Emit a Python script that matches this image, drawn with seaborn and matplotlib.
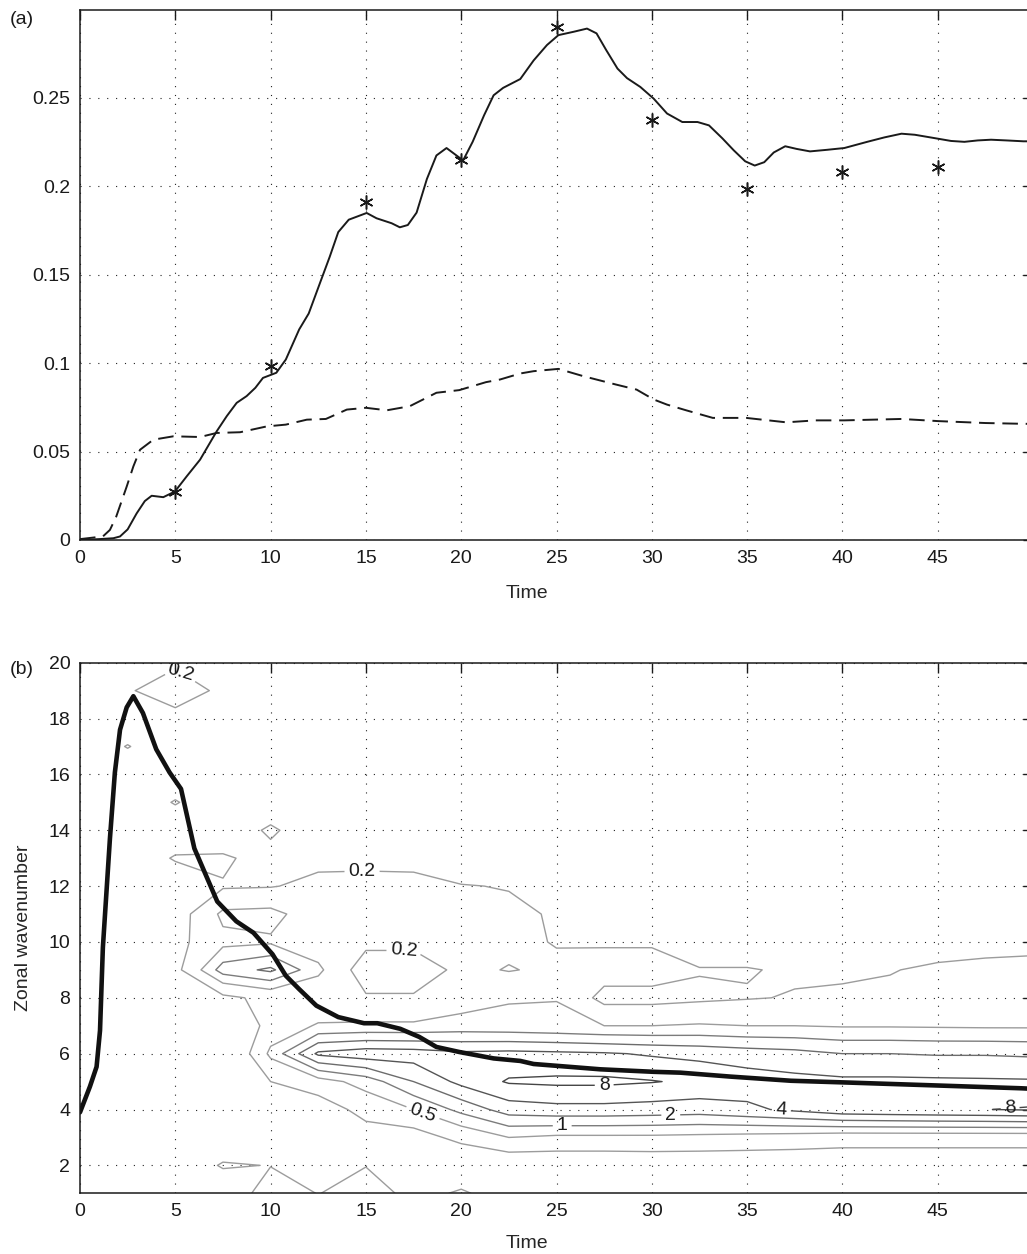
import numpy as np
import matplotlib
matplotlib.use("Agg")
import matplotlib.pyplot as plt
import seaborn as sns

# ---------------- data: panel (a) ----------------
solid_t = [0, 1.0, 1.75, 2.1, 2.5, 2.97, 3.4, 3.76, 4.37, 4.98, 5.6, 6.3, 7.17, 7.7, 8.22, 8.74,
           9.2, 9.6, 10.3, 10.8, 11.5, 12.0, 12.6, 13.1, 13.55, 14.1, 15.04, 15.56, 16.35, 16.78,
           17.2, 17.66, 18.2, 18.7, 19.23, 20.1, 20.6, 21.2, 21.7, 22.2, 23.1, 23.8, 24.5, 25.1,
           25.9, 26.6, 27.1, 27.6, 28.2, 28.7, 29.4, 30.1, 30.8, 31.6, 32.4, 33.0, 33.7, 34.3,
           34.9, 35.4, 35.9, 36.4, 37.0, 37.6, 38.3, 39.2, 40.1, 41.3, 42.2, 43.1, 43.8, 45.0,
           45.7, 46.4, 47.1, 47.8, 48.6, 49.5, 50]
solid_v = [0.0, 0.0005, 0.001, 0.002, 0.006, 0.015, 0.022, 0.025, 0.0242, 0.0274, 0.036, 0.0454,
           0.0614, 0.070, 0.0775, 0.0813, 0.086, 0.0916, 0.0945, 0.102, 0.119, 0.128, 0.1455,
           0.160, 0.174, 0.181, 0.1848, 0.1818, 0.179, 0.1767, 0.178, 0.185, 0.204, 0.2173,
           0.2215, 0.2145, 0.225, 0.240, 0.2513, 0.2555, 0.2605, 0.271, 0.2797, 0.2853, 0.2872,
           0.289, 0.2863, 0.277, 0.2664, 0.261, 0.256, 0.2494, 0.241, 0.2362, 0.2362, 0.2343,
           0.227, 0.2202, 0.214, 0.2116, 0.2135, 0.219, 0.2225, 0.221, 0.2196, 0.2205, 0.2215,
           0.225, 0.2275, 0.2296, 0.229, 0.2268, 0.2255, 0.225, 0.2258, 0.2262, 0.2258, 0.2253,
           0.2253]

dashed_t = [0, 1.2, 1.57, 1.9, 2.45, 2.8, 3.15, 3.85, 4.9, 6.3, 7.17, 8.4, 9.8, 10.8, 11.9, 12.9,
            14.0, 15.0, 16.1, 17.3, 18.7, 19.9, 21.3, 22.04, 23.1, 23.8, 25.1, 26.4, 28.1, 29.2,
            30.1, 30.8, 31.8, 33.2, 34.95, 37.05, 38.6, 40.1, 43.1, 45.0, 47.5, 49.3, 50]
dashed_v = [0.0005, 0.002, 0.0057, 0.0132, 0.0302, 0.0416, 0.051, 0.0567, 0.0586, 0.0582, 0.0605,
            0.0609, 0.0642, 0.0652, 0.068, 0.0684, 0.0737, 0.0747, 0.0733, 0.0756, 0.0832, 0.0847,
            0.0892, 0.0907, 0.0941, 0.0954, 0.0967, 0.0926, 0.0879, 0.085, 0.0794, 0.0765, 0.0733,
            0.069, 0.069, 0.0665, 0.0676, 0.0676, 0.0684, 0.0672, 0.0661, 0.0657, 0.0656]

star_t = [5, 10, 15, 20, 25, 30, 35, 40, 45]
star_v = [0.027, 0.0983, 0.1909, 0.2145, 0.290, 0.2375, 0.1984, 0.2082, 0.2107]

# ---------------- data: panel (b) ----------------
k_t = [0, 0.52, 0.87, 1.05, 1.2, 1.57, 1.83, 2.1, 2.45, 2.8, 3.3, 4.0, 4.7, 5.3, 6.0, 7.2, 8.2,
       9.1, 10.1, 10.8, 11.5, 12.4, 13.55, 14.9, 15.6, 16.8, 17.8, 18.7, 19.9, 21.7, 23.1, 23.8,
       25.1, 27.3, 30.1, 31.5, 34.1, 37.3, 40.1, 45.0, 49.4, 50]
k_v = [3.9, 4.82, 5.53, 6.83, 9.8, 13.7, 16.07, 17.6, 18.4, 18.8, 18.2, 16.9, 16.07, 15.48, 13.35,
       11.45, 10.74, 10.33, 9.56, 8.79, 8.31, 7.72, 7.31, 7.09, 7.09, 6.89, 6.6, 6.24, 6.06, 5.83,
       5.74, 5.63, 5.56, 5.44, 5.35, 5.32, 5.18, 5.03, 4.97, 4.86, 4.76, 4.74]

grid_t = [0, 2.5, 5, 7.5, 10, 12.5, 15, 17.5, 20, 22.5, 25, 27.5, 30, 32.5, 35, 37.5, 40, 42.5,
          45, 47.5, 50]
wavenumbers = list(range(1, 21))
# energy per zonal wavenumber (rows) at each grid time (columns)
e_k1 = [0.05, 0.05, 0.05, 0.05, 0.50, 0.19, 0.45, 0.12, 0.24, 0.10, 0.08, 0.07, 0.07, 0.07, 0.07, 0.07, 0.07, 0.07, 0.07, 0.07, 0.07]
e_k2 = [0.05, 0.05, 0.05, 0.24, 0.19, 0.10, 0.19, 0.10, 0.07, 0.088, 0.09, 0.09, 0.095, 0.095, 0.095, 0.095, 0.095, 0.095, 0.095, 0.095, 0.095]
e_k3 = [0.05, 0.05, 0.05, 0.05, 0.05, 0.08, 0.12, 0.125, 0.27, 0.5, 0.43, 0.43, 0.43, 0.41, 0.38, 0.35, 0.31, 0.31, 0.31, 0.31, 0.31]
e_k4 = [0.05, 0.05, 0.05, 0.05, 0.08, 0.11, 0.29, 0.5, 1.23, 2.8, 3.2, 3.2, 3.0, 2.8, 3.5, 4.6, 6.5, 7.0, 7.5, 7.9, 8.6]
e_k5 = [0.05, 0.05, 0.05, 0.05, 0.2, 0.36, 0.67, 2.0, 4.9, 8.6, 9.2, 9.2, 8.3, 7.0, 5.6, 4.9, 4.6, 4.6, 4.5, 4.4, 4.3]
e_k6 = [0.05, 0.05, 0.05, 0.05, 0.6, 4.6, 6.1, 5.7, 4.6, 4.9, 4.6, 4.3, 3.7, 3.25, 2.8, 2.5, 2.0, 2.0, 1.9, 1.9, 1.8]
e_k7 = [0.05, 0.05, 0.05, 0.05, 0.3, 0.54, 0.57, 0.57, 0.66, 0.62, 0.57, 0.5, 0.5, 0.54, 0.5, 0.5, 0.47, 0.47, 0.46, 0.45, 0.45]
e_k8 = [0.05, 0.05, 0.05, 0.16, 0.26, 0.26, 0.22, 0.22, 0.35, 0.47, 0.49, 0.15, 0.15, 0.17, 0.19, 0.21, 0.25, 0.25, 0.25, 0.25, 0.25]
e_k9 = [0.05, 0.05, 0.15, 1.4, 2.3, 0.6, 0.12, 0.12, 0.25, 0.19, 0.24, 0.3, 0.3, 0.21, 0.21, 0.18, 0.16, 0.19, 0.24, 0.26, 0.27]
e_k10 = [0.05, 0.05, 0.15, 0.4, 0.45, 0.3, 0.25, 0.25, 0.26, 0.25, 0.19, 0.18, 0.18, 0.12, 0.12, 0.10, 0.10, 0.10, 0.12, 0.14, 0.15]
e_k11 = [0.05, 0.05, 0.12, 0.6, 0.65, 0.3, 0.3, 0.28, 0.26, 0.25, 0.18, 0.10, 0.08, 0.07, 0.06, 0.06, 0.06, 0.06, 0.06, 0.06, 0.06]
e_k12 = [0.05, 0.05, 0.05, 0.18, 0.19, 0.25, 0.26, 0.25, 0.21, 0.19, 0.10, 0.07, 0.06, 0.05, 0.05, 0.05, 0.05, 0.05, 0.05, 0.05, 0.05]
e_k13 = [0.05, 0.05, 0.24, 0.26, 0.10, 0.16, 0.16, 0.16, 0.10, 0.10, 0.07, 0.05, 0.05, 0.05, 0.05, 0.05, 0.05, 0.05, 0.05, 0.05, 0.05]
e_k14 = [0.05, 0.05, 0.05, 0.05, 0.28, 0.05, 0.05, 0.05, 0.05, 0.05, 0.05, 0.05, 0.05, 0.05, 0.05, 0.05, 0.05, 0.05, 0.05, 0.05, 0.05]
e_k15 = [0.05, 0.05, 0.23, 0.05, 0.05, 0.05, 0.05, 0.05, 0.05, 0.05, 0.05, 0.05, 0.05, 0.05, 0.05, 0.05, 0.05, 0.05, 0.05, 0.05, 0.05]
e_k16 = [0.05, 0.05, 0.05, 0.05, 0.05, 0.05, 0.05, 0.05, 0.05, 0.05, 0.05, 0.05, 0.05, 0.05, 0.05, 0.05, 0.05, 0.05, 0.05, 0.05, 0.05]
e_k17 = [0.05, 0.22, 0.05, 0.05, 0.05, 0.05, 0.05, 0.05, 0.05, 0.05, 0.05, 0.05, 0.05, 0.05, 0.05, 0.05, 0.05, 0.05, 0.05, 0.05, 0.05]
e_k18 = [0.05, 0.05, 0.14, 0.05, 0.05, 0.05, 0.05, 0.05, 0.05, 0.05, 0.05, 0.05, 0.05, 0.05, 0.05, 0.05, 0.05, 0.05, 0.05, 0.05, 0.05]
e_k19 = [0.05, 0.18, 0.35, 0.16, 0.05, 0.05, 0.05, 0.05, 0.05, 0.05, 0.05, 0.05, 0.05, 0.05, 0.05, 0.05, 0.05, 0.05, 0.05, 0.05, 0.05]
e_k20 = [0.05, 0.05, 0.17, 0.05, 0.05, 0.05, 0.05, 0.05, 0.05, 0.05, 0.05, 0.05, 0.05, 0.05, 0.05, 0.05, 0.05, 0.05, 0.05, 0.05, 0.05]

contour_levels = [0.2, 0.5, 1, 2, 4, 8]
level_labels = ["0.2", "0.5", "1", "2", "4", "8"]

# ---------------- style ----------------
sns.set_theme(style="white")
plt.rcParams["font.family"] = ["Liberation Sans", "DejaVu Sans"]
plt.rcParams["axes.linewidth"] = 1.1
plt.rcParams["axes.edgecolor"] = "#1a1a1a"
plt.rcParams["contour.negative_linestyle"] = "solid"

FS = 14
fig = plt.figure(figsize=(10.27, 12.54), dpi=100)
W, H = 1027.0, 1254.0
x0, x50 = 80.0, 1033.0
ax1 = fig.add_axes([x0 / W, (H - 540) / H, (x50 - x0) / W, 530 / H])
ax2 = fig.add_axes([x0 / W, (H - 1193.3) / H, (x50 - x0) / W, 530.6 / H])

grid_kw = dict(color="#222222", linestyle=(0, (1, 7)), linewidth=0.8)


def style_axes(ax):
    for s in ax.spines.values():
        s.set_visible(True)
        s.set_color("#1a1a1a")
        s.set_linewidth(1.1)
    ax.tick_params(axis="both", which="major", direction="in", length=7, width=1.0,
                   top=True, right=True, labelsize=FS, colors="#1a1a1a", pad=7)
    ax.grid(True, **grid_kw)
    ax.set_axisbelow(True)


# ---------------- panel (a) ----------------
sns.lineplot(x=solid_t, y=solid_v, ax=ax1, color="#1a1a1a", linewidth=1.4,
             estimator=None, sort=False)
sns.lineplot(x=dashed_t, y=dashed_v, ax=ax1, color="#1a1a1a", linewidth=1.4,
             estimator=None, sort=False, linestyle=(0, (8, 4)))
sns.lineplot(x=star_t, y=star_v, ax=ax1, color="#1a1a1a", linestyle="",
             marker=(6, 2, 0), markersize=10, markeredgecolor="#1a1a1a",
             markeredgewidth=1.1, estimator=None, sort=False)
ax1.set_xlim(0, 50)
ax1.set_ylim(0, 0.2995)
ax1.set_xticks([0, 5, 10, 15, 20, 25, 30, 35, 40, 45])
ax1.set_yticks([0, 0.05, 0.1, 0.15, 0.2, 0.25])
ax1.set_yticklabels(["0", "0.05", "0.1", "0.15", "0.2", "0.25"])
style_axes(ax1)
ax1.set_xlabel("Time", fontsize=FS)
ax1.set_ylabel("")
ax1.xaxis.set_label_coords((527 - x0) / (x50 - x0), -0.085)

# ---------------- panel (b) ----------------
E = np.array([e_k1, e_k2, e_k3, e_k4, e_k5, e_k6, e_k7, e_k8, e_k9, e_k10,
              e_k11, e_k12, e_k13, e_k14, e_k15, e_k16, e_k17, e_k18, e_k19, e_k20])
T, K = np.meshgrid(grid_t, wavenumbers)
logE = np.log2(E)
level_colors = ["#9c9c9c", "#9c9c9c", "#7c7c7c", "#6c6c6c", "#555555", "#454545"]
label_spots = {
    0: [(5.3, 19.7), (14.8, 12.5), (17.0, 9.7)],
    1: [(18.0, 3.9)],
    2: [(25.3, 3.3)],
    3: [(31.0, 3.6)],
    4: [(36.8, 4.0)],
    5: [(27.5, 4.9), (48.8, 4.05)],
}
for i, (lev, lab, col) in enumerate(zip(contour_levels, level_labels, level_colors)):
    lv = float(np.log2(lev))
    cs = ax2.contour(T, K, logE, levels=[lv], colors=[col], linewidths=1.0,
                     linestyles="solid")
    spots = label_spots.get(i, [])
    if spots:
        cs.clabel(manual=spots, fmt={lv: lab}, fontsize=FS, inline=True,
                  inline_spacing=4, colors="#1a1a1a")

sns.lineplot(x=k_t, y=k_v, ax=ax2, color="#111111", linewidth=3.3,
             estimator=None, sort=False)
ax2.set_xlim(0, 50)
ax2.set_ylim(1, 20)
ax2.set_xticks([0, 5, 10, 15, 20, 25, 30, 35, 40, 45])
ax2.set_yticks(list(range(2, 21, 2)))
style_axes(ax2)
ax2.set_xlabel("Time", fontsize=FS)
ax2.set_ylabel("Zonal wavenumber", fontsize=FS)
ax2.xaxis.set_label_coords((527 - x0) / (x50 - x0), -0.079)
ax2.yaxis.set_label_coords((32 - x0) / (x50 - x0), 0.5)

fig.text(10 / W, 1 - 19 / H, "(a)", fontsize=FS, ha="left", va="center", color="#1a1a1a")
fig.text(10 / W, 1 - 670 / H, "(b)", fontsize=FS, ha="left", va="center", color="#1a1a1a")

fig.savefig("out.png", dpi=100)
